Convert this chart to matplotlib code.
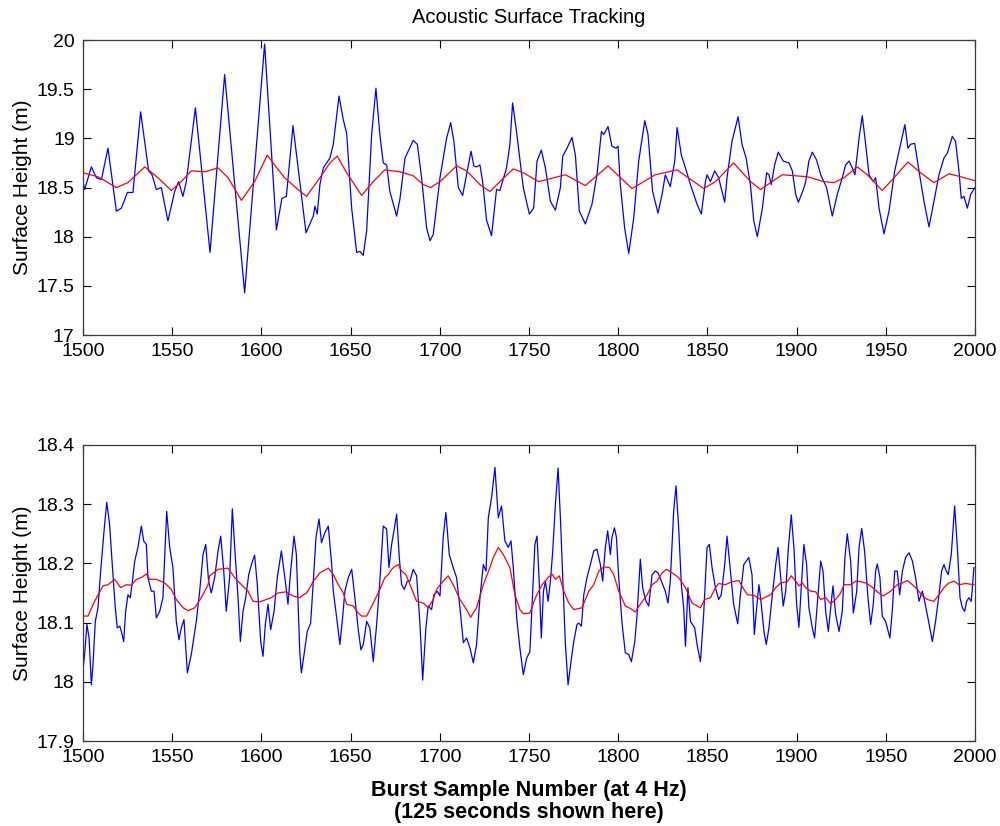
import matplotlib
matplotlib.use("Agg")
import matplotlib.pyplot as plt

plt.rcParams['font.family'] = ['Liberation Sans', 'DejaVu Sans']

# ---------------- data: top panel ----------------
top_blue_x = [1500.0, 1500.9, 1504.7, 1507.5, 1510.3, 1514.0, 1518.7, 1521.5, 1524.9, 1528.0,
              1532.3, 1536.8, 1538.7, 1541.1, 1543.9, 1547.6, 1551.4, 1553.6, 1556.0, 1557.9,
              1563.0, 1571.2, 1579.4, 1590.6, 1601.8, 1608.4, 1611.5, 1614.0, 1617.7, 1625.0,
              1629.1, 1630.0, 1631.3, 1632.8, 1634.7, 1638.4, 1640.3, 1643.5, 1645.9, 1647.8,
              1650.6, 1653.4, 1655.2, 1657.1, 1659.0, 1661.8, 1664.2, 1666.4, 1668.3, 1670.2,
              1672.0, 1675.8, 1677.7, 1680.5, 1685.1, 1687.4, 1689.8, 1692.6, 1694.5, 1696.3,
              1700.1, 1703.8, 1706.1, 1707.9, 1710.4, 1712.8, 1715.0, 1717.5, 1719.1, 1720.6,
              1722.5, 1724.0, 1726.2, 1729.0, 1731.8, 1733.7, 1737.4, 1739.3, 1740.8, 1743.0,
              1746.8, 1750.2, 1752.6, 1754.5, 1756.9, 1759.2, 1762.0, 1764.8, 1767.6, 1768.9,
              1771.3, 1774.1, 1776.0, 1778.2, 1781.6, 1785.3, 1788.1, 1790.6, 1791.9, 1794.3,
              1796.5, 1798.8, 1799.9, 1801.2, 1803.6, 1805.9, 1808.7, 1811.5, 1814.9, 1816.7,
              1819.3, 1822.3, 1824.6, 1826.4, 1829.2, 1831.7, 1833.0, 1835.4, 1837.7, 1840.5,
              1844.2, 1846.6, 1848.9, 1849.8, 1851.7, 1854.1, 1856.3, 1859.7, 1861.0, 1863.8,
              1867.2, 1869.4, 1871.7, 1874.1, 1876.0, 1878.0, 1880.8, 1883.2, 1884.5, 1885.8,
              1887.7, 1889.7, 1892.5, 1895.7, 1897.6, 1899.5, 1901.0, 1903.8, 1905.1, 1906.9,
              1908.8, 1911.2, 1913.5, 1916.8, 1920.0, 1922.8, 1925.6, 1927.5, 1929.4, 1931.2,
              1932.7, 1935.0, 1936.8, 1938.7, 1940.6, 1943.0, 1944.3, 1946.2, 1949.0, 1951.8,
              1955.0, 1958.3, 1960.7, 1962.4, 1963.9, 1966.2, 1968.6, 1971.4, 1974.2, 1977.0,
              1979.8, 1982.6, 1984.5, 1987.3, 1989.1, 1991.0, 1992.3, 1993.8, 1995.7, 1997.6,
              2000.0]
top_blue_y = [18.56, 18.48, 18.71, 18.60, 18.58, 18.90, 18.26, 18.29, 18.45, 18.45,
              19.27, 18.67, 18.63, 18.48, 18.50, 18.16, 18.46, 18.56, 18.41, 18.56,
              19.31, 17.84, 19.65, 17.43, 19.96, 18.07, 18.39, 18.41, 19.13, 18.04,
              18.21, 18.31, 18.23, 18.53, 18.70, 18.80, 18.94, 19.43, 19.19, 19.05,
              18.29, 17.84, 17.85, 17.81, 18.06, 19.04, 19.51, 19.04, 18.75, 18.73,
              18.46, 18.21, 18.39, 18.80, 18.98, 18.94, 18.60, 18.09, 17.96, 18.02,
              18.60, 19.00, 19.16, 18.97, 18.50, 18.42, 18.63, 18.87, 18.72, 18.71,
              18.73, 18.56, 18.17, 18.01, 18.48, 18.47, 18.70, 18.94, 19.36, 19.07,
              18.50, 18.23, 18.29, 18.77, 18.88, 18.70, 18.36, 18.27, 18.50, 18.82,
              18.90, 19.01, 18.83, 18.26, 18.13, 18.33, 18.63, 19.07, 19.04, 19.12,
              18.92, 18.90, 18.92, 18.53, 18.09, 17.83, 18.19, 18.77, 19.18, 19.04,
              18.46, 18.24, 18.43, 18.63, 18.51, 18.77, 19.11, 18.83, 18.70, 18.53,
              18.33, 18.23, 18.56, 18.63, 18.56, 18.67, 18.60, 18.35, 18.60, 18.97,
              19.22, 18.94, 18.80, 18.53, 18.16, 18.00, 18.29, 18.65, 18.63, 18.53,
              18.73, 18.86, 18.77, 18.75, 18.67, 18.43, 18.35, 18.48, 18.56, 18.77,
              18.86, 18.78, 18.63, 18.50, 18.21, 18.43, 18.60, 18.73, 18.77, 18.70,
              18.63, 19.00, 19.23, 18.94, 18.63, 18.56, 18.60, 18.29, 18.03, 18.26,
              18.67, 18.94, 19.14, 18.90, 18.94, 18.95, 18.67, 18.36, 18.10, 18.36,
              18.63, 18.80, 18.85, 19.02, 18.97, 18.67, 18.39, 18.41, 18.29, 18.43,
              18.50]

top_red_x = [1500.0, 1508.4, 1518.7, 1525.2, 1534.6, 1542.0, 1549.5, 1555.1, 1560.7, 1568.2,
             1575.7, 1581.3, 1588.8, 1596.2, 1603.3, 1607.4, 1613.0, 1620.5, 1625.3, 1632.8,
             1638.4, 1642.5, 1647.8, 1656.2, 1662.7, 1669.2, 1677.7, 1685.1, 1690.7, 1694.8,
             1700.1, 1709.4, 1715.0, 1722.5, 1728.1, 1733.7, 1741.2, 1746.8, 1755.4, 1770.4,
             1781.6, 1794.3, 1807.8, 1820.8, 1833.0, 1847.9, 1854.5, 1864.7, 1874.2, 1879.8,
             1885.4, 1892.0, 1906.0, 1915.3, 1921.0, 1926.6, 1934.0, 1939.6, 1948.0, 1954.6,
             1962.4, 1969.5, 1977.0, 1985.4, 1991.9, 2000.0]
top_red_y = [18.65, 18.61, 18.50, 18.55, 18.71, 18.60, 18.47, 18.56, 18.67, 18.66,
             18.70, 18.60, 18.37, 18.56, 18.83, 18.73, 18.60, 18.48, 18.41, 18.60,
             18.75, 18.82, 18.65, 18.42, 18.56, 18.68, 18.66, 18.62, 18.53, 18.50,
             18.56, 18.72, 18.67, 18.53, 18.46, 18.56, 18.69, 18.65, 18.56, 18.63,
             18.52, 18.72, 18.49, 18.63, 18.68, 18.49, 18.56, 18.75, 18.56, 18.48,
             18.55, 18.63, 18.61, 18.56, 18.55, 18.60, 18.71, 18.63, 18.47, 18.60,
             18.76, 18.65, 18.55, 18.64, 18.61, 18.57]

# ---------------- data: bottom panel ----------------
bot_blue_x = [1500.0, 1500.9, 1502.2, 1503.4, 1504.7, 1505.6, 1506.9, 1508.4, 1509.9, 1511.8,
              1513.3, 1514.9, 1516.4, 1518.1, 1519.2, 1520.6, 1521.5, 1522.8, 1523.9, 1525.2,
              1526.5, 1527.7, 1529.0, 1530.8, 1532.7, 1534.0, 1535.5, 1536.4, 1538.3, 1539.8,
              1541.1, 1543.0, 1544.8, 1546.9, 1548.6, 1550.4, 1552.3, 1553.8, 1555.1, 1556.6,
              1558.5, 1560.7, 1563.5, 1565.4, 1567.3, 1568.8, 1570.4, 1571.9, 1573.8, 1575.7,
              1577.2, 1578.9, 1580.3, 1582.2, 1583.7, 1585.4, 1586.9, 1588.2, 1589.7, 1591.2,
              1592.9, 1594.4, 1596.2, 1597.7, 1599.6, 1600.9, 1602.2, 1603.7, 1605.2, 1607.1,
              1608.9, 1611.2, 1613.4, 1614.9, 1616.4, 1618.3, 1619.6, 1621.5, 1622.4, 1623.9,
              1625.7, 1627.6, 1629.1, 1630.6, 1632.3, 1633.7, 1635.6, 1637.5, 1639.4, 1640.3,
              1642.2, 1644.0, 1645.5, 1646.8, 1648.7, 1650.6, 1652.4, 1654.3, 1655.8, 1657.1,
              1659.0, 1660.8, 1662.7, 1664.6, 1666.4, 1668.3, 1670.2, 1671.5, 1673.0, 1674.3,
              1675.8, 1677.3, 1678.6, 1680.1, 1681.8, 1683.3, 1685.1, 1687.0, 1688.9, 1690.4,
              1692.2, 1693.5, 1695.4, 1696.7, 1698.6, 1700.1, 1701.9, 1703.4, 1705.3, 1707.5,
              1709.4, 1711.3, 1713.2, 1715.0, 1716.9, 1718.8, 1720.6, 1722.5, 1724.4, 1725.9,
              1727.2, 1729.0, 1730.9, 1732.8, 1734.6, 1736.5, 1738.4, 1739.9, 1741.2, 1743.1,
              1744.9, 1746.8, 1748.7, 1750.5, 1752.4, 1753.3, 1754.5, 1755.8, 1756.9, 1758.1,
              1759.2, 1760.7, 1762.0, 1763.3, 1764.8, 1766.3, 1767.6, 1768.9, 1770.4, 1771.9,
              1773.8, 1775.1, 1776.9, 1777.9, 1779.4, 1780.7, 1782.5, 1784.4, 1786.3, 1788.1,
              1790.0, 1791.3, 1792.8, 1794.1, 1795.6, 1796.5, 1797.9, 1799.0, 1800.3, 1802.2,
              1804.0, 1805.9, 1807.4, 1809.3, 1810.6, 1812.4, 1813.7, 1815.6, 1817.1, 1819.0,
              1820.8, 1822.3, 1824.2, 1826.4, 1827.9, 1829.2, 1831.1, 1832.4, 1833.9, 1835.4,
              1836.7, 1837.7, 1839.1, 1840.5, 1842.9, 1844.2, 1846.1, 1847.9, 1849.8, 1851.1,
              1852.6, 1854.5, 1856.3, 1857.8, 1859.7, 1861.0, 1862.9, 1864.7, 1867.0, 1868.5,
              1870.4, 1873.2, 1875.0, 1876.3, 1877.6, 1878.9, 1880.2, 1881.7, 1883.0, 1884.5,
              1886.4, 1888.3, 1889.6, 1891.1, 1892.5, 1893.9, 1895.4, 1897.0, 1898.5, 1900.0,
              1901.3, 1902.6, 1904.1, 1905.6, 1906.9, 1908.8, 1910.1, 1911.6, 1913.5, 1914.8,
              1916.3, 1917.8, 1919.1, 1920.4, 1921.9, 1923.8, 1925.6, 1927.1, 1928.4, 1930.3,
              1931.8, 1933.7, 1935.0, 1936.5, 1938.1, 1940.0, 1941.5, 1943.0, 1944.3, 1945.2,
              1946.7, 1948.0, 1949.9, 1952.3, 1953.6, 1955.0, 1956.4, 1957.8, 1959.3, 1961.1,
              1963.0, 1964.9, 1966.7, 1968.6, 1970.5, 1971.8, 1973.6, 1976.1, 1977.9, 1979.8,
              1981.3, 1982.6, 1983.9, 1985.0, 1986.7, 1988.6, 1990.1, 1991.6, 1992.9, 1994.2,
              1995.3, 1996.6, 1997.9, 1999.4]
bot_blue_y = [18.020, 18.046, 18.097, 18.074, 17.995, 18.029, 18.102, 18.125, 18.187, 18.255,
              18.303, 18.266, 18.198, 18.125, 18.091, 18.094, 18.085, 18.068, 18.119, 18.147,
              18.142, 18.170, 18.204, 18.227, 18.263, 18.238, 18.232, 18.176, 18.153, 18.153,
              18.108, 18.119, 18.142, 18.288, 18.227, 18.193, 18.102, 18.071, 18.091, 18.105,
              18.015, 18.046, 18.102, 18.153, 18.215, 18.232, 18.170, 18.150, 18.176, 18.221,
              18.246, 18.187, 18.119, 18.176, 18.292, 18.210, 18.142, 18.068, 18.119, 18.142,
              18.181, 18.198, 18.214, 18.164, 18.068, 18.043, 18.097, 18.131, 18.088, 18.119,
              18.176, 18.221, 18.170, 18.131, 18.187, 18.246, 18.215, 18.051, 18.015, 18.046,
              18.085, 18.099, 18.170, 18.244, 18.275, 18.235, 18.252, 18.263, 18.198, 18.153,
              18.108, 18.063, 18.108, 18.153, 18.176, 18.190, 18.142, 18.088, 18.054, 18.063,
              18.102, 18.091, 18.034, 18.097, 18.170, 18.263, 18.258, 18.193, 18.232, 18.255,
              18.283, 18.210, 18.164, 18.156, 18.170, 18.170, 18.190, 18.179, 18.097, 18.003,
              18.091, 18.128, 18.122, 18.147, 18.153, 18.145, 18.244, 18.286, 18.215, 18.193,
              18.176, 18.125, 18.066, 18.074, 18.057, 18.032, 18.063, 18.142, 18.198, 18.187,
              18.277, 18.311, 18.362, 18.277, 18.297, 18.238, 18.227, 18.238, 18.193, 18.108,
              18.057, 18.012, 18.040, 18.051, 18.176, 18.232, 18.246, 18.164, 18.074, 18.153,
              18.170, 18.136, 18.170, 18.221, 18.300, 18.361, 18.277, 18.176, 18.063, 17.995,
              18.040, 18.068, 18.097, 18.099, 18.094, 18.147, 18.176, 18.198, 18.221, 18.224,
              18.198, 18.170, 18.227, 18.255, 18.215, 18.244, 18.260, 18.244, 18.176, 18.097,
              18.049, 18.046, 18.034, 18.068, 18.114, 18.207, 18.159, 18.136, 18.128, 18.181,
              18.187, 18.184, 18.170, 18.153, 18.133, 18.170, 18.289, 18.331, 18.260, 18.164,
              18.125, 18.060, 18.159, 18.102, 18.091, 18.063, 18.034, 18.114, 18.227, 18.232,
              18.193, 18.159, 18.139, 18.147, 18.198, 18.246, 18.187, 18.131, 18.098, 18.147,
              18.198, 18.210, 18.181, 18.080, 18.125, 18.164, 18.131, 18.085, 18.063, 18.091,
              18.147, 18.198, 18.227, 18.176, 18.128, 18.153, 18.227, 18.282, 18.227, 18.131,
              18.092, 18.159, 18.232, 18.198, 18.125, 18.091, 18.074, 18.131, 18.204, 18.187,
              18.119, 18.085, 18.125, 18.162, 18.114, 18.085, 18.119, 18.210, 18.250, 18.204,
              18.116, 18.153, 18.227, 18.259, 18.221, 18.142, 18.097, 18.131, 18.187, 18.199,
              18.176, 18.111, 18.102, 18.074, 18.119, 18.187, 18.187, 18.147, 18.187, 18.210,
              18.218, 18.204, 18.176, 18.136, 18.153, 18.136, 18.108, 18.068, 18.102, 18.147,
              18.187, 18.198, 18.187, 18.181, 18.215, 18.297, 18.227, 18.142, 18.125, 18.119,
              18.136, 18.142, 18.136, 18.193]

bot_red_x = [1500.0, 1502.8, 1506.5, 1511.2, 1514.0, 1517.8, 1521.1, 1524.3, 1527.1, 1529.9,
             1532.7, 1535.5, 1537.4, 1541.1, 1545.8, 1549.5, 1552.3, 1556.1, 1558.9, 1562.6,
             1566.3, 1570.1, 1571.0, 1575.7, 1581.3, 1585.0, 1588.8, 1592.5, 1595.3, 1599.0,
             1602.8, 1605.6, 1609.3, 1614.0, 1617.7, 1621.5, 1623.5, 1625.3, 1627.2, 1629.1,
             1632.8, 1637.5, 1640.3, 1643.1, 1645.9, 1647.8, 1651.5, 1654.3, 1656.2, 1659.0,
             1662.7, 1666.4, 1669.2, 1671.1, 1673.0, 1674.9, 1676.7, 1678.6, 1681.0, 1683.3,
             1687.0, 1690.7, 1693.5, 1696.3, 1698.2, 1701.9, 1704.7, 1707.5, 1711.3, 1715.0,
             1717.3, 1720.6, 1724.4, 1728.1, 1730.0, 1732.8, 1735.6, 1739.3, 1742.1, 1744.9,
             1746.8, 1750.5, 1753.6, 1757.3, 1761.0, 1762.9, 1764.8, 1767.0, 1769.5, 1772.3,
             1775.1, 1779.7, 1783.5, 1786.3, 1789.1, 1791.9, 1795.1, 1797.5, 1800.3, 1804.0,
             1806.8, 1809.6, 1812.4, 1816.2, 1819.0, 1821.8, 1824.6, 1827.0, 1830.2, 1833.9,
             1837.7, 1841.4, 1846.1, 1848.5, 1851.7, 1854.5, 1856.3, 1860.1, 1863.8, 1867.6,
             1870.5, 1872.4, 1876.1, 1879.8, 1882.6, 1885.4, 1888.3, 1891.1, 1894.8, 1897.0,
             1899.5, 1901.3, 1903.2, 1905.1, 1907.9, 1910.7, 1913.5, 1916.3, 1919.1, 1921.9,
             1924.7, 1926.6, 1930.3, 1933.1, 1935.9, 1938.7, 1941.5, 1945.2, 1948.6, 1952.7,
             1956.4, 1959.3, 1962.1, 1964.9, 1967.7, 1970.5, 1973.3, 1977.0, 1979.8, 1982.6,
             1985.4, 1988.2, 1991.0, 1994.8, 1999.4]
bot_red_y = [18.111, 18.111, 18.136, 18.162, 18.164, 18.173, 18.159, 18.164, 18.163, 18.173,
             18.176, 18.182, 18.173, 18.173, 18.167, 18.156, 18.139, 18.125, 18.120, 18.125,
             18.142, 18.164, 18.179, 18.190, 18.192, 18.176, 18.164, 18.153, 18.136, 18.135,
             18.139, 18.142, 18.150, 18.152, 18.145, 18.142, 18.147, 18.150, 18.159, 18.170,
             18.184, 18.192, 18.181, 18.164, 18.150, 18.131, 18.128, 18.116, 18.111, 18.111,
             18.133, 18.156, 18.176, 18.181, 18.190, 18.195, 18.198, 18.187, 18.181, 18.164,
             18.136, 18.133, 18.125, 18.139, 18.156, 18.170, 18.179, 18.164, 18.139, 18.122,
             18.109, 18.125, 18.164, 18.193, 18.210, 18.227, 18.215, 18.193, 18.147, 18.122,
             18.115, 18.116, 18.142, 18.164, 18.177, 18.182, 18.173, 18.179, 18.153, 18.133,
             18.122, 18.125, 18.153, 18.164, 18.187, 18.194, 18.193, 18.181, 18.153, 18.128,
             18.124, 18.118, 18.131, 18.147, 18.164, 18.170, 18.184, 18.190, 18.184, 18.176,
             18.159, 18.133, 18.125, 18.139, 18.142, 18.159, 18.166, 18.164, 18.169, 18.171,
             18.156, 18.147, 18.146, 18.139, 18.143, 18.147, 18.159, 18.167, 18.169, 18.179,
             18.170, 18.162, 18.167, 18.159, 18.153, 18.152, 18.139, 18.142, 18.132, 18.139,
             18.150, 18.164, 18.164, 18.170, 18.169, 18.167, 18.162, 18.152, 18.145, 18.153,
             18.164, 18.167, 18.171, 18.164, 18.156, 18.145, 18.139, 18.136, 18.147, 18.159,
             18.167, 18.170, 18.164, 18.166, 18.164]

x_ticks = [1500, 1550, 1600, 1650, 1700, 1750, 1800, 1850, 1900, 1950, 2000]
top_yticks = [17, 17.5, 18, 18.5, 19, 19.5, 20]
top_yticklabels = ['17', '17.5', '18', '18.5', '19', '19.5', '20']
bot_yticks = [17.9, 18.0, 18.1, 18.2, 18.3, 18.4]
bot_yticklabels = ['17.9', '18', '18.1', '18.2', '18.3', '18.4']

title_text = 'Acoustic Surface Tracking'
ylabel_text = 'Surface Height (m)'
xlabel_text = 'Burst Sample Number (at 4 Hz)\n(125 seconds shown here)'

# ---------------- figure ----------------
fig = plt.figure(figsize=(10, 8.26), dpi=100)
ax1 = fig.add_axes([0.083, 0.5944, 0.892, 0.3571])
ax2 = fig.add_axes([0.083, 0.1029, 0.892, 0.3584])

spine_col = '#3a3a3a'
for ax in (ax1, ax2):
    ax.set_xlim(1500, 2000)
    ax.set_xticks(x_ticks)
    ax.tick_params(direction='in', top=True, right=True, length=6, width=0.8,
                   labelsize=14, colors='black', pad=6)
    for s in ax.spines.values():
        s.set_color(spine_col)
        s.set_linewidth(0.9)

ax1.plot(top_blue_x, top_blue_y, color='#0000ff', lw=0.9)
ax1.plot(top_red_x, top_red_y, color='#ff0000', lw=0.9)
ax1.set_ylim(17, 20)
ax1.set_yticks(top_yticks)
ax1.set_yticklabels(top_yticklabels)
ax1.set_title(title_text, fontsize=14.5, pad=12.5)
ax1.set_ylabel(ylabel_text, fontsize=15, labelpad=3)

ax2.plot(bot_blue_x, bot_blue_y, color='#0000ff', lw=0.9)
ax2.plot(bot_red_x, bot_red_y, color='#ff0000', lw=0.9)
ax2.set_ylim(17.9, 18.4)
ax2.set_yticks(bot_yticks)
ax2.set_yticklabels(bot_yticklabels)
ax2.set_ylabel(ylabel_text, fontsize=15, labelpad=3)
ax2.set_xlabel(xlabel_text, fontsize=15.5, fontweight='bold', labelpad=10, linespacing=1.05)

fig.savefig('out.png', dpi=100)
